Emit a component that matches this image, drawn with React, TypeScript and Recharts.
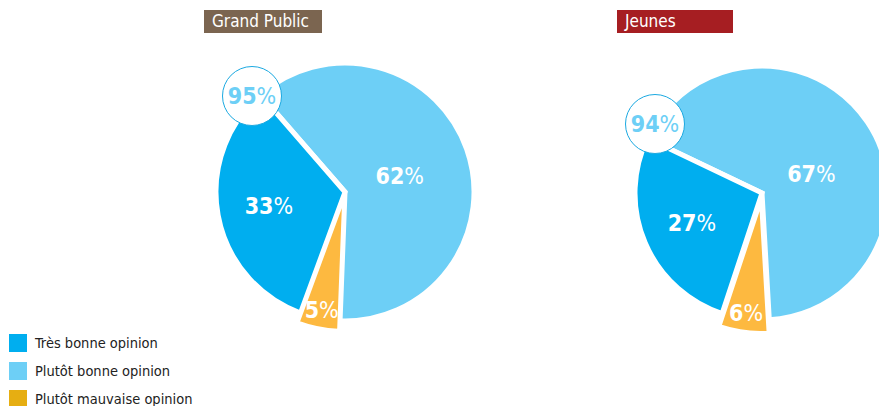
import { PieChart, Pie, Cell } from "recharts";

const W = 879;
const H = 406;
const FONT = "'Liberation Sans Narrow', 'DejaVu Sans Condensed', 'Roboto', sans-serif";

// ordre des parts dans le sens horaire : plutôt bonne, plutôt mauvaise, très bonne
const SLICE_NAMES = ["Plutôt bonne opinion", "Plutôt mauvaise opinion", "Très bonne opinion"];
const SLICE_COLORS = ["#6dcff6", "#fdb940", "#00aeef"];
const grandPublic = [62, 5, 33];
const jeunes = [67, 6, 27];
const positives = [95, 94];
const titles = ["Grand Public", "Jeunes"];

const LEGEND_NAMES = ["Très bonne opinion", "Plutôt bonne opinion", "Plutôt mauvaise opinion"];
const LEGEND_COLORS = ["#00aeef", "#6dcff6", "#e6ae12"];

const RAD = Math.PI / 180;
const LABEL_FACTOR = [0.45, 0.86, 0.6];
const EXPLODED = 1; // index de la part détachée

const PIES = [
  {
    values: grandPublic,
    cx: 345,
    cy: 192,
    r: 129,
    start: 131,
    explode: 10,
    nudge: [0, 3],
    titleBox: { x: 204, w: 118, color: "#7b6550" },
    badge: { x: 252, y: 96 },
  },
  {
    values: jeunes,
    cx: 762,
    cy: 193,
    r: 127,
    start: 154.5,
    explode: 13,
    nudge: [2, 13],
    titleBox: { x: 617, w: 116, color: "#a61e22" },
    badge: { x: 655, y: 124 },
  },
];

const toData = (values: number[]) =>
  values.map((v, i) => ({ name: SLICE_NAMES[i], value: v }));

// décalage de la part détachée le long de son angle médian
const explodeOffset = (values: number[], start: number, dist: number) => {
  const total = values.reduce((a, b) => a + b, 0);
  let before = 0;
  for (let i = 0; i < EXPLODED; i++) before += values[i];
  const mid = start - ((before + values[EXPLODED] / 2) / total) * 360;
  return { dx: dist * Math.cos(mid * RAD), dy: -dist * Math.sin(mid * RAD) };
};

// eslint-disable-next-line @typescript-eslint/no-explicit-any
const renderLabel = (only: number | null, nudge: number[]) => (props: any) => {
  const { cx, cy, midAngle, outerRadius, index, value } = props;
  if (only !== null && index !== only) return null;
  if (only === null && index === EXPLODED) return null;
  const rr = outerRadius * LABEL_FACTOR[index];
  let x = cx + rr * Math.cos(-midAngle * RAD);
  let y = cy + rr * Math.sin(-midAngle * RAD);
  if (index === 0) {
    x += nudge[0];
    y += nudge[1];
  }
  return (
    <text
      x={x}
      y={y}
      textAnchor="middle"
      dominantBaseline="central"
      fill="#ffffff"
      style={{ fontFamily: FONT, fontSize: 23 }}>
      <tspan fontWeight="bold">{value}</tspan>
      <tspan fontWeight="normal">%</tspan>
    </text>
  );
};

export default function App() {
  return (
    <div
      style={{
        position: "absolute",
        left: 0,
        top: 0,
        width: W,
        height: H,
        overflow: "hidden",
        background: "#ffffff",
        fontFamily: FONT,
      }}>
      <PieChart
        width={W}
        height={H}
        margin={{ top: 0, right: 0, bottom: 0, left: 0 }}
        style={{ position: "absolute", left: 0, top: 0 }}>
        {PIES.map((p, k) => {
          const data = toData(p.values);
          const off = explodeOffset(p.values, p.start, p.explode);
          return [
            <Pie
              key={`main-${k}`}
              data={data}
              dataKey="value"
              cx={p.cx}
              cy={p.cy}
              outerRadius={p.r}
              startAngle={p.start}
              endAngle={p.start - 360}
              stroke="#ffffff"
              strokeWidth={5}
              labelLine={false}
              label={renderLabel(null, p.nudge)}
              isAnimationActive={false}>
              {data.map((d, i) => (
                <Cell
                  key={`c-${i}`}
                  fill={i === EXPLODED ? "transparent" : SLICE_COLORS[i]}
                  stroke={i === EXPLODED ? "none" : "#ffffff"}
                />
              ))}
            </Pie>,
            <Pie
              key={`exp-${k}`}
              data={data}
              dataKey="value"
              cx={p.cx + off.dx}
              cy={p.cy + off.dy}
              outerRadius={p.r - 1}
              startAngle={p.start}
              endAngle={p.start - 360}
              stroke="#ffffff"
              strokeWidth={2}
              labelLine={false}
              label={renderLabel(EXPLODED, p.nudge)}
              isAnimationActive={false}>
              {data.map((d, i) => (
                <Cell
                  key={`e-${i}`}
                  fill={i === EXPLODED ? SLICE_COLORS[i] : "transparent"}
                  stroke={i === EXPLODED ? "#ffffff" : "none"}
                />
              ))}
            </Pie>,
          ];
        })}
      </PieChart>

      {/* titres */}
      {PIES.map((p, k) => (
        <div
          key={`t-${k}`}
          style={{
            position: "absolute",
            left: p.titleBox.x,
            top: 10,
            width: p.titleBox.w,
            height: 23,
            background: p.titleBox.color,
            color: "#ffffff",
            fontSize: 17,
            lineHeight: "23px",
            paddingLeft: 8,
            boxSizing: "border-box",
            whiteSpace: "nowrap",
          }}>
          {titles[k]}
        </div>
      ))}

      {/* pastilles du total positif */}
      {PIES.map((p, k) => (
        <div
          key={`b-${k}`}
          style={{
            position: "absolute",
            left: p.badge.x - 30,
            top: p.badge.y - 30,
            width: 60,
            height: 60,
            borderRadius: "50%",
            border: "1.5px solid #1ba9e1",
            background: "#ffffff",
            boxSizing: "border-box",
            display: "flex",
            alignItems: "center",
            justifyContent: "center",
            color: "#6dcff6",
            fontSize: 23,
          }}>
          <span style={{ fontWeight: "bold" }}>{positives[k]}</span>
          <span>%</span>
        </div>
      ))}

      {/* légende */}
      {LEGEND_NAMES.map((name, i) => (
        <div
          key={`l-${i}`}
          style={{
            position: "absolute",
            left: 9,
            top: 334 + i * 28,
            height: 18,
            display: "flex",
            alignItems: "center",
            whiteSpace: "nowrap",
          }}>
          <div style={{ width: 18, height: 18, background: LEGEND_COLORS[i], marginRight: 8 }} />
          <span style={{ fontSize: 14.5, color: "#222222" }}>{name}</span>
        </div>
      ))}
    </div>
  );
}
